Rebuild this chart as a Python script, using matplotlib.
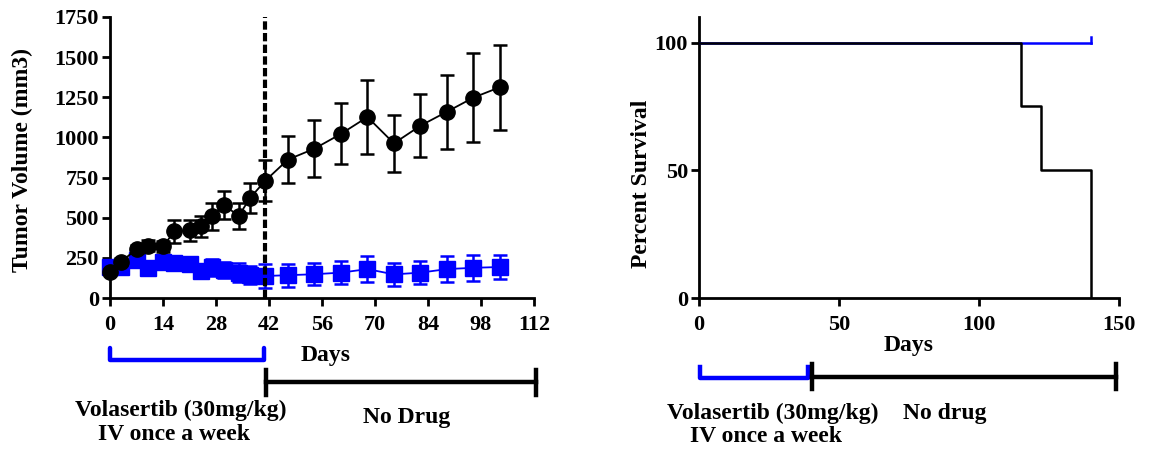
import matplotlib
matplotlib.use("Agg")
import matplotlib.pyplot as plt
from matplotlib.transforms import blended_transform_factory

plt.rcParams['font.family'] = ['Liberation Serif', 'DejaVu Serif']
plt.rcParams['font.weight'] = 'bold'

# Tumour volume over time
days = [0, 3, 7, 10, 14, 17, 21, 24, 27, 30, 34, 37, 41,
        47, 54, 61, 68, 75, 82, 89, 96, 103]
control_vol = [165, 227, 304, 325, 321, 415, 421, 446, 508, 581, 511, 623, 730,
               862, 930, 1022, 1127, 963, 1073, 1160, 1248, 1313]
control_err = [15, 20, 25, 35, 35, 72, 66, 67, 83, 86, 80, 93, 127,
               145, 176, 190, 232, 176, 195, 231, 278, 264]
treated_vol = [192, 190, 237, 185, 225, 217, 210, 168, 190, 172, 157, 144, 137,
               142, 148, 158, 180, 147, 158, 180, 188, 193]
treated_err = [15, 20, 20, 20, 40, 35, 30, 30, 55, 50, 60, 55, 75,
               72, 70, 72, 80, 70, 72, 80, 82, 75]
vol_yticks = [0, 250, 500, 750, 1000, 1250, 1500, 1750]
vol_xticks = [0, 14, 28, 42, 56, 70, 84, 98, 112]
dosing_stop = 41

# Kaplan-Meier survival
surv_days_control = [0, 115, 122, 140]
surv_pct_control = [100, 75, 50, 0]
surv_days_treated = [0, 140]
surv_pct_treated = [100, 100]
surv_xticks = [0, 50, 100, 150]
surv_yticks = [0, 50, 100]

BLUE = '#0000ff'
TICK_FS = 16
LABEL_FS = 17

fig = plt.figure(figsize=(11.52, 4.49), dpi=100)
ax1 = fig.add_axes([110/1152, 1 - 298/449, 424/1152, 281/449])
ax2 = fig.add_axes([699/1152, 1 - 298/449, 420/1152, 281/449])

for ax in (ax1, ax2):
    for s in ('top', 'right'):
        ax.spines[s].set_visible(False)
    for s in ('left', 'bottom'):
        ax.spines[s].set_linewidth(2)
    ax.tick_params(direction='out', length=6, width=2, labelsize=TICK_FS)
    ax.tick_params(axis='x', pad=6)
    ax.tick_params(axis='y', pad=2)

def fy(p):
    return 1 - p/449

# ---- left: tumour volume ----
ax1.errorbar(days, treated_vol, yerr=treated_err, color=BLUE, marker='s', ms=11,
             lw=1.3, elinewidth=1.8, capsize=5, capthick=1.8, zorder=3, clip_on=False)
ax1.errorbar(days, control_vol, yerr=control_err, color='black', marker='o', ms=11,
             lw=1.3, elinewidth=1.8, capsize=5, capthick=1.8, zorder=4, clip_on=False)
ax1.plot([dosing_stop, dosing_stop], [0, 1750], color='black', lw=3,
         dashes=(2, 0.8), zorder=5)
ax1.set_xlim(0, 112)
ax1.set_ylim(0, 1750)
ax1.set_xticks(vol_xticks)
ax1.set_yticks(vol_yticks)
ax1.set_xticklabels([str(v) for v in vol_xticks], fontweight='bold')
ax1.set_yticklabels([str(v) for v in vol_yticks], fontweight='bold')
ax1.set_ylabel('Tumor Volume (mm3)', fontsize=LABEL_FS, fontweight='bold')
ax1.yaxis.set_label_coords((33 - 110) / 424, (298 - 160) / 281)

tr1 = blended_transform_factory(ax1.transData, fig.transFigure)
ax1.text(57, fy(356), 'Days', transform=tr1, ha='center', va='center',
         fontsize=LABEL_FS, fontweight='bold')
ax1.plot([0, 0, 40.7, 40.7], [fy(348), fy(360), fy(360), fy(348)], color=BLUE, lw=3.2,
         transform=tr1, clip_on=False, solid_capstyle='round', solid_joinstyle='round')
ax1.plot([41.3, 112.5], [fy(382), fy(382)], color='black', lw=3.2, transform=tr1, clip_on=False)
for xx in (41.3, 112.5):
    ax1.plot([xx, xx], [fy(370), fy(395)], color='black', lw=3.2, transform=tr1, clip_on=False)
ax1.text(18.6, fy(410), 'Volasertib (30mg/kg)', transform=tr1, ha='center', va='center',
         fontsize=LABEL_FS, fontweight='bold')
ax1.text(17.0, fy(434), 'IV once a week', transform=tr1, ha='center', va='center',
         fontsize=LABEL_FS, fontweight='bold')
ax1.text(78.3, fy(417), 'No Drug', transform=tr1, ha='center', va='center',
         fontsize=LABEL_FS, fontweight='bold')

# ---- right: survival ----
ax2.step(surv_days_treated, surv_pct_treated, where='post', color=BLUE, lw=1.8, zorder=3)
ax2.plot([surv_days_treated[-1]] * 2, [100, 102.3], color=BLUE, lw=1.8, zorder=3)
ax2.step(surv_days_control, surv_pct_control, where='post', color='black', lw=1.8, zorder=4)
ax2.set_xlim(0, 150)
ax2.set_ylim(0, 110)
ax2.set_xticks(surv_xticks)
ax2.set_yticks(surv_yticks)
ax2.set_xticklabels([str(v) for v in surv_xticks], fontweight='bold')
ax2.set_yticklabels([str(v) for v in surv_yticks], fontweight='bold')
ax2.set_ylabel('Percent Survival', fontsize=LABEL_FS, fontweight='bold')
ax2.yaxis.set_label_coords((652 - 699) / 420, (298 - 184) / 281)

tr2 = blended_transform_factory(ax2.transData, fig.transFigure)
ax2.text(75, fy(345), 'Days', transform=tr2, ha='center', va='center',
         fontsize=LABEL_FS, fontweight='bold')
ax2.plot([0.5, 0.5, 39, 39], [fy(367), fy(378), fy(378), fy(367)], color=BLUE, lw=3.2,
         transform=tr2, clip_on=False)
ax2.plot([40.5, 149], [fy(377), fy(377)], color='black', lw=3.2, transform=tr2, clip_on=False)
for xx in (40.5, 149):
    ax2.plot([xx, xx], [fy(364), fy(389)], color='black', lw=3.2, transform=tr2, clip_on=False)
ax2.text(26.4, fy(413), 'Volasertib (30mg/kg)', transform=tr2, ha='center', va='center',
         fontsize=LABEL_FS, fontweight='bold')
ax2.text(24.0, fy(437), 'IV once a week', transform=tr2, ha='center', va='center',
         fontsize=LABEL_FS, fontweight='bold')
ax2.text(87.9, fy(413), 'No drug', transform=tr2, ha='center', va='center',
         fontsize=LABEL_FS, fontweight='bold')

fig.savefig('out.png', dpi=100)
